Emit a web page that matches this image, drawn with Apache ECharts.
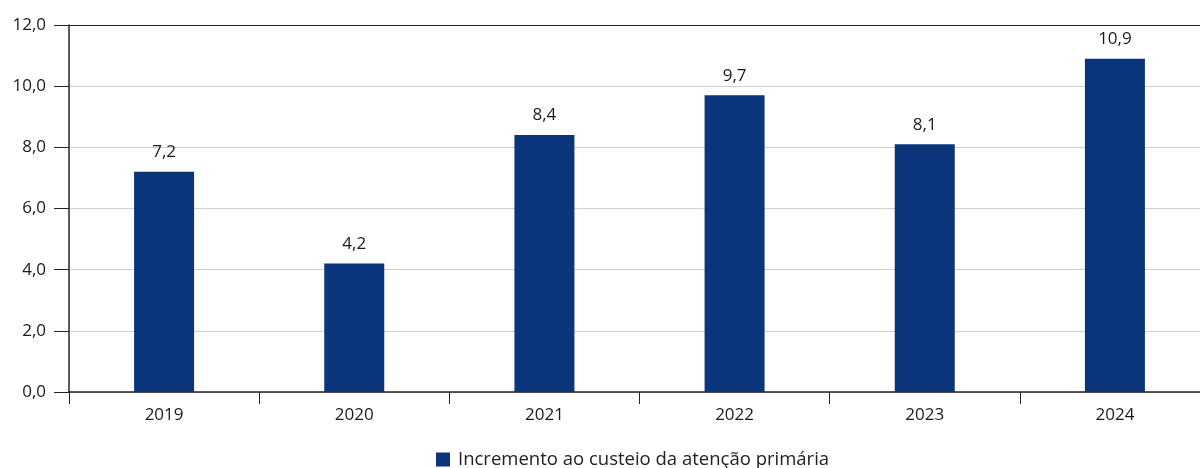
<!DOCTYPE html>
<html><head><meta charset="utf-8">
<script src="https://cdn.jsdelivr.net/npm/echarts@6/dist/echarts.min.js"></script>
<style>html,body{margin:0;padding:0;background:#fff}#c{width:1200px;height:468px}</style>
</head><body><div id="c"></div>
<script>
var categories = ['2019','2020','2021','2022','2023','2024'];
var values = [7.2, 4.2, 8.4, 9.7, 8.1, 10.9];
var seriesName = 'Incremento ao custeio da atenção primária';
var fmt = function(v){ return Number(v).toFixed(1).replace('.', ','); };
var chart = echarts.init(document.getElementById('c'));
chart.setOption({
  animation: false,
  textStyle: { fontFamily: 'Open Sans' },
  grid: { left: 69, width: 1141, top: 25, height: 367, outerBoundsMode: 'none', containLabel: false },
  legend: {
    top: 450, left: 436, padding: 0, itemWidth: 14, itemHeight: 14, itemGap: 8,
    icon: 'rect',
    textStyle: { fontSize: 18.5, color: '#222', fontFamily: 'Open Sans', padding: [0, 0, 0, 3] },
    data: [seriesName]
  },
  xAxis: {
    type: 'category', data: categories,
    axisLine: { lineStyle: { color: '#222', width: 1.5 } },
    axisTick: { show: true, length: 12, lineStyle: { color: '#222', width: 1 } },
    axisLabel: { fontSize: 17, color: '#1a1a1a', margin: 15 }
  },
  yAxis: {
    type: 'value', min: 0, max: 12, interval: 2,
    axisLine: { show: true, lineStyle: { color: '#222', width: 1.5 } },
    axisTick: { show: true, length: 15, lineStyle: { color: '#222', width: 1 } },
    axisLabel: { fontSize: 17, color: '#1a1a1a', margin: 23, formatter: fmt },
    splitLine: { lineStyle: { color: ['#d0d0d0','#d0d0d0','#d0d0d0','#d0d0d0','#d0d0d0','#d0d0d0','#222'], width: 1.2 } }
  },
  series: [{
    name: seriesName, type: 'bar', data: values, barWidth: 60,
    itemStyle: { color: '#0a357a' },
    label: { show: true, position: 'top', distance: 11, fontSize: 17, color: '#1a1a1a', formatter: function(p){ return fmt(p.value); } }
  }]
});
</script></body></html>
